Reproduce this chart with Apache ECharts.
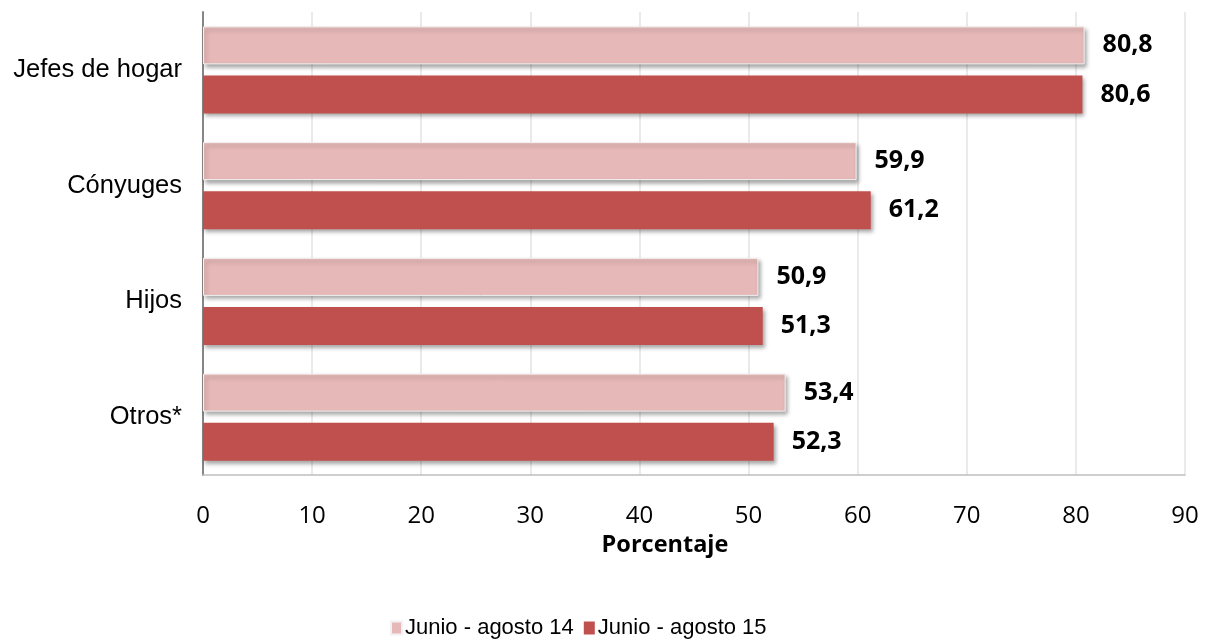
<!DOCTYPE html>
<html>
<head>
<meta charset="utf-8">
<script src="https://cdn.jsdelivr.net/npm/echarts@6/dist/echarts.min.js"></script>
<style>html,body{margin:0;padding:0;background:#fff}#c{width:1211px;height:640px}</style>
</head>
<body>
<div id="c"></div>
<script>
var categories = ['Jefes de hogar', 'Cónyuges', 'Hijos', 'Otros*'];
var seriesNames = ['Junio - agosto 14', 'Junio - agosto 15'];
var values14 = [80.8, 59.9, 50.9, 53.4];
var values15 = [80.6, 61.2, 51.3, 52.3];
var xTicks = [0, 10, 20, 30, 40, 50, 60, 70, 80, 90];

var chart = echarts.init(document.getElementById('c'));
function fmt(p){ return String(p.value).replace('.', ','); }
var labelStyle = {
  show: true, position: 'right', distance: 18,
  formatter: fmt, fontFamily: 'Open Sans', fontWeight: 'bold', fontSize: 25, color: '#000'
};
chart.setOption({
  animation: false,
  grid: { left: 203, right: 26, top: 12, bottom: 165, containLabel: false },
  legend: {
    top: 612, left: 385,
    itemWidth: 11, itemHeight: 13, itemGap: 10,
    icon: 'rect',
    textStyle: { fontFamily: 'Liberation Sans', fontSize: 22, color: '#000', padding: [0,0,0,-2] },
    data: seriesNames
  },
  xAxis: {
    type: 'value', min: xTicks[0], max: xTicks[xTicks.length-1], interval: 10,
    name: 'Porcentaje', nameLocation: 'middle', nameGap: 57,
    nameTextStyle: { fontFamily: 'Open Sans', fontWeight: 'bold', fontSize: 23.5, color: '#000', padding: [0, 58, 0, 0] },
    axisLine: { show: true, lineStyle: { color: '#BFBFBF', width: 1.5 } },
    axisTick: { show: false },
    axisLabel: { margin: 29, fontFamily: 'Open Sans', fontSize: 24, color: '#000' },
    splitLine: { show: true, lineStyle: { color: '#E3E3E3', width: 1.5 } }
  },
  yAxis: {
    type: 'category', data: categories, inverse: true,
    axisLine: { show: true, lineStyle: { color: '#868686', width: 2 } },
    axisTick: { show: false },
    axisLabel: { margin: 21, padding: [5, 0, 0, 0], fontFamily: 'Liberation Sans', fontSize: 25.5, color: '#000' }
  },
  series: [
    {
      name: seriesNames[0], type: 'bar', data: values14,
      barWidth: 38, barGap: '29%',
      itemStyle: { color: '#E6B9B8', borderColor: '#F2F2F2', borderWidth: 1,
        shadowColor: 'rgba(0,0,0,0.35)', shadowBlur: 4, shadowOffsetX: 2, shadowOffsetY: 3 },
      label: labelStyle
    },
    {
      name: seriesNames[1], type: 'bar', data: values15,
      barWidth: 38, barGap: '29%',
      itemStyle: { color: '#C0504D',
        shadowColor: 'rgba(0,0,0,0.35)', shadowBlur: 4, shadowOffsetX: 2, shadowOffsetY: 3 },
      label: labelStyle
    }
  ]
});
</script>
</body>
</html>
